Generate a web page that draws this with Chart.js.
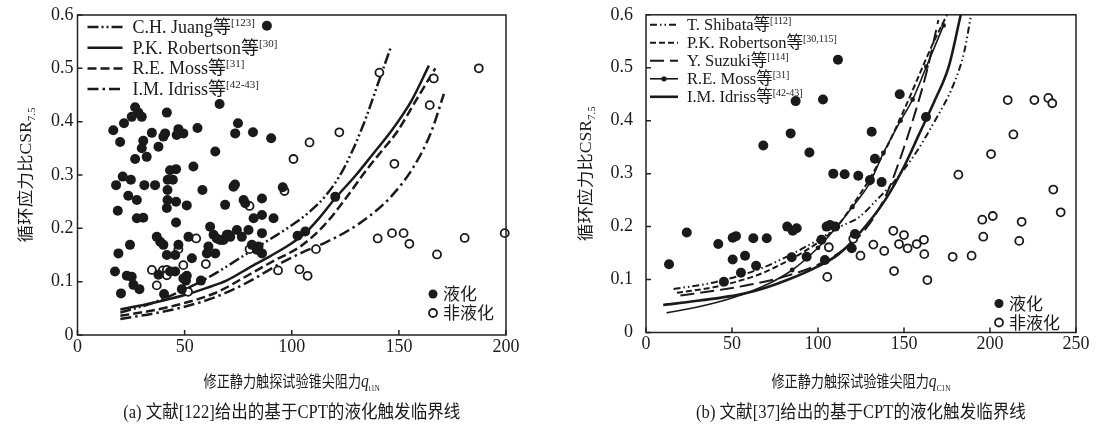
<!DOCTYPE html>
<html><head><meta charset="utf-8">
<script src="https://cdn.jsdelivr.net/npm/chart.js@4.4.1/dist/chart.umd.min.js"></script>
<style>
html,body{margin:0;padding:0;background:#fff;width:1101px;height:430px;overflow:hidden}
canvas{position:absolute}
</style></head><body>
<canvas id="ca" width="560" height="430" style="left:0;top:0;width:560px;height:430px"></canvas>
<canvas id="cb" width="541" height="439" style="left:560px;top:-9px;width:541px;height:439px"></canvas>
<script>
// ================= DATA =================
const yTicks = [0, 0.1, 0.2, 0.3, 0.4, 0.5, 0.6];
const aXTicks = [0, 50, 100, 150, 200];
const bXTicks = [0, 50, 100, 150, 200, 250];

// ---- panel (a) ----
const aLiq = [[16.7,0.384],[19.9,0.362],[21.7,0.397],[26.9,0.427],[28.4,0.417],[25.3,0.409],[30,0.409],[41.7,0.417],[34.7,0.379],[30.7,0.364],[40.1,0.372],[40.9,0.378],[37.8,0.353],[30,0.35],[26.9,0.33],[32.3,0.334],[47.1,0.386],[46.3,0.375],[49.4,0.378],[56,0.388],
[18,0.281],[21.1,0.297],[24.9,0.291],[23.7,0.261],[27.7,0.253],[31.2,0.281],[36.2,0.281],[43.2,0.309],[46,0.311],[42.1,0.291],[44.5,0.291],[42,0.272],[42,0.253],[41.7,0.238],[46,0.25],[54.1,0.316],[58.3,0.272],[51,0.243],
[18.8,0.233],[27.7,0.219],[30.7,0.22],[46,0.211],[19.1,0.153],[24.5,0.169],[17.5,0.119],[23,0.111],[25.3,0.109],[26.1,0.094],[28.9,0.086],[20.3,0.078],
[37,0.184],[38.6,0.175],[40.1,0.169],[41.7,0.15],[45.6,0.15],[47.1,0.169],[45.6,0.119],[43.2,0.119],[37.8,0.113],[49.4,0.106],[51.8,0.184],[53.4,0.144],[51,0.111],[50.6,0.102],[48.7,0.086],[40.4,0.077],[57.6,0.102],
[61.9,0.203],[61.1,0.166],[60.4,0.153],[64.3,0.153],[63.5,0.188],[65,0.181],[68.1,0.178],[71.3,0.184],[74.4,0.197],[69.7,0.188],[76.7,0.184],[79.8,0.197],[68.9,0.244],[72.8,0.278],[77.5,0.253],[82.2,0.219],[86.1,0.225],[86.1,0.256],[91.5,0.219],[81.4,0.169],[84.5,0.166],[86.1,0.153],[86.1,0.191],[64.3,0.344],[66.3,0.433],[74.9,0.397],[73.6,0.378],[81.9,0.38],[90.4,0.369],[88.4,0.58],
[66.6,0.178],[70.5,0.188],[83.7,0.16],[78.3,0.247],[73.5,0.282],[120.3,0.259],[102.7,0.186],[106.3,0.194],[95.8,0.277]];
const aNonLiq = [[55.4,0.181],[47.1,0.161],[49.4,0.131],[59.9,0.133],[34.7,0.122],[39.8,0.121],[41.7,0.122],[41.7,0.112],[37,0.093],[51.6,0.081],[80.3,0.161],[80.3,0.242],[93.6,0.121],[96.6,0.27],[103.6,0.123],[107.4,0.111],[111.3,0.161],[100.8,0.33],[108.3,0.361],[122.2,0.38],[140.9,0.492],[166.3,0.481],[187.3,0.5],[164.4,0.431],[147.9,0.321],[140.1,0.181],[146.8,0.191],[152.2,0.191],[154.9,0.171],[167.8,0.151],[180.7,0.182],[199.4,0.191]];
const aJuang = [[20,0.042],[35,0.06],[46,0.078],[55,0.095],[65,0.117],[80,0.155],[90,0.18],[99,0.203],[108,0.23],[116,0.262],[124,0.31],[133,0.39],[141,0.48],[146,0.537]];
const aRobertson = [[20,0.048],[35,0.06],[50,0.075],[60,0.088],[70,0.103],[80,0.126],[90,0.148],[100,0.172],[106,0.19],[113,0.22],[120,0.255],[130,0.3],[138,0.34],[146,0.38],[156,0.44],[164,0.505]];
const aMoss = [[20,0.036],[35,0.046],[50,0.06],[65,0.08],[80,0.113],[92,0.14],[104,0.166],[115,0.205],[125,0.255],[135,0.31],[142,0.345],[149,0.38],[158,0.44],[167,0.5]];
const aIdriss = [[20,0.03],[35,0.04],[50,0.053],[65,0.072],[80,0.1],[95,0.135],[105,0.155],[115,0.172],[126,0.195],[136,0.222],[146,0.258],[157,0.316],[165,0.38],[171,0.452]];
const aLegendNames = ['C.H. Juang等', 'P.K. Robertson等', 'R.E. Moss等', 'I.M. Idriss等'];
const aLegendRefs = ['[123]', '[30]', '[31]', '[42-43]'];

// ---- panel (b) ----
const bLiq = [[13.4,0.129],[23.7,0.189],[42,0.167],[50.4,0.179],[52.3,0.182],[50.4,0.138],[57.6,0.145],[62.4,0.178],[70.2,0.178],[55.2,0.113],[64,0.126],[45.3,0.096],[68.2,0.353],[84.1,0.376],[95,0.34],[82.1,0.2],[85.3,0.192],[87.6,0.197],[84.7,0.142],[93.4,0.143],[87,0.437],[102.9,0.44],[111.6,0.515],[105,0.2],[107,0.203],[110,0.2],[104,0.137],[102,0.175],[147.5,0.45],[162.8,0.407],[131.2,0.379],[133.1,0.328],[108.9,0.3],[115.5,0.299],[123.4,0.296],[130.2,0.288],[137,0.284],[119.6,0.159],[121.5,0.186]];
const bNonLiq = [[105.4,0.105],[106.3,0.161],[120.5,0.177],[124.7,0.145],[132.2,0.166],[138.5,0.154],[143.8,0.192],[150,0.184],[147.1,0.167],[152.1,0.159],[157.4,0.167],[161.6,0.175],[161.8,0.148],[144.2,0.116],[163.6,0.099],[178.3,0.143],[189.3,0.145],[181.6,0.298],[195.5,0.213],[196.1,0.181],[201.6,0.22],[200.6,0.337],[210.3,0.439],[213.6,0.374],[218.4,0.209],[217,0.173],[225.8,0.439],[233.9,0.443],[236.2,0.433],[236.8,0.27],[241.1,0.227]];
const bShibata = [[16,0.082],[40,0.095],[66,0.12],[86,0.15],[100,0.175],[113,0.2],[124,0.218],[134,0.25],[144,0.284],[156,0.335],[168,0.4],[179,0.47],[185,0.53],[189,0.6]];
const bRobertson = [[18,0.075],[40,0.086],[66,0.11],[85,0.14],[100,0.17],[111,0.2],[120,0.24],[130,0.29],[140,0.35],[150,0.42],[158,0.48],[166,0.54],[175,0.6]];
const bSuzuki = [[20,0.07],[40,0.079],[60,0.09],[80,0.105],[100,0.128],[113,0.152],[122,0.175],[132,0.215],[141,0.27],[149,0.34],[156,0.41],[163,0.49],[170,0.59]];
const bMoss = [[12,0.037],[30,0.048],[50,0.065],[70,0.09],[85,0.118],[100,0.16],[111,0.2],[120,0.237],[130,0.282],[138,0.339],[148,0.4],[155,0.44],[163,0.502],[173,0.58]];
const bIdriss = [[10,0.052],[30,0.06],[55,0.072],[70,0.085],[82,0.099],[100,0.125],[112,0.148],[124,0.187],[139,0.25],[150,0.313],[159,0.376],[168,0.439],[176,0.502],[183,0.6]];
const bLegendNames = ['T. Shibata等', 'P.K. Robertson等', 'Y. Suzuki等', 'R.E. Moss等', 'I.M. Idriss等'];
const bLegendRefs = ['[112]', '[30,115]', '[114]', '[31]', '[42-43]'];

const markerLabels = ['液化', '非液化'];
const yTitle = ['循环应力比CSR', '7.5'];
const aXTitle = ['修正静力触探试验锥尖阻力', 'q', 't1N'];
const bXTitle = ['修正静力触探试验锥尖阻力', 'q', 'C1N'];
const aCaption = '(a) 文献[122]给出的基于CPT的液化触发临界线';
const bCaption = '(b) 文献[37]给出的基于CPT的液化触发临界线';

// ================= STYLE / DRAW =================
const INK = '#1a1a1a';
const FAM = '"Liberation Serif","Noto Sans CJK SC",serif';
const toXY = arr => arr.map(([x, y]) => ({x, y}));

function lineDs(arr, st) {
  return {data: toXY(arr), showLine: true, borderColor: INK, backgroundColor: INK,
    borderWidth: st.w, borderDash: st.dash || [],
    pointRadius: st.dot ? (c => (c.raw && c.raw.x >= 85 ? 2.4 : 0)) : 0,
    pointBackgroundColor: INK, pointBorderWidth: 0, cubicInterpolationMode: 'monotone',
    fill: false, order: 1, clip: false};
}
function filledDs(arr) {
  return {data: toXY(arr), showLine: false, pointRadius: 5, pointBackgroundColor: INK,
    pointBorderColor: INK, pointBorderWidth: 0, order: 0, clip: false};
}
function openDs(arr) {
  return {data: toXY(arr), showLine: false, pointRadius: 4, pointBackgroundColor: '#fff',
    pointBorderColor: INK, pointBorderWidth: 1.8, order: 0, clip: false};
}

function richDraw(ctx, parts, x, y) {
  let cx = x;
  for (const p of parts) { ctx.font = p.f; ctx.fillText(p.t, cx, y + (p.dy || 0)); cx += ctx.measureText(p.t).width; }
  return cx;
}
function richWidth(ctx, parts) {
  let w = 0; for (const p of parts) { ctx.font = p.f; w += ctx.measureText(p.t).width; } return w;
}
function drawSample(ctx, x1, x2, y, st) {
  ctx.save(); ctx.strokeStyle = INK; ctx.lineWidth = st.w; ctx.setLineDash(st.dash || []);
  ctx.beginPath(); ctx.moveTo(x1, y); ctx.lineTo(x2, y); ctx.stroke();
  if (st.dot) { ctx.setLineDash([]); ctx.fillStyle = INK; ctx.beginPath(); ctx.arc((x1 + x2) / 2, y, 2.6, 0, Math.PI * 2); ctx.fill(); }
  ctx.restore();
}

const annot = {
  id: 'annot',
  afterDraw(chart, args, o) {
    const ctx = chart.ctx, a = chart.chartArea, xs = chart.scales.x, ys = chart.scales.y;
    ctx.save();
    ctx.strokeStyle = '#222'; ctx.lineWidth = 1.5; ctx.setLineDash([]);
    ctx.strokeRect(a.left, a.top, a.right - a.left, a.bottom - a.top);
    ctx.beginPath();
    xs.ticks.forEach(t => { const p = xs.getPixelForValue(t.value); ctx.moveTo(p, a.bottom); ctx.lineTo(p, a.bottom - 5); });
    ys.ticks.forEach(t => { const p = ys.getPixelForValue(t.value); ctx.moveTo(a.left, p); ctx.lineTo(a.left + 5, p); });
    ctx.stroke();
    ctx.fillStyle = INK; ctx.textBaseline = 'alphabetic'; ctx.textAlign = 'left';
    // curve legend
    o.names.forEach((n, i) => {
      const y = a.top + o.lg.y0 + o.lg.dy * i;
      drawSample(ctx, a.left + o.lg.x1, a.left + o.lg.x2, y, o.styles[i]);
      richDraw(ctx, [{t: n, f: o.lg.fs + 'px ' + FAM}, {t: o.refs[i], f: o.lg.ss + 'px ' + FAM, dy: -o.lg.sup}], a.left + o.lg.tx, y + o.lg.fs * 0.33);
    });
    // marker legend
    const mx = a.right - o.mk.dx;
    ctx.fillStyle = INK; ctx.beginPath(); ctx.arc(mx, a.bottom - o.mk.y1, 4.5, 0, Math.PI * 2); ctx.fill();
    ctx.fillStyle = '#fff'; ctx.strokeStyle = INK; ctx.lineWidth = 1.8;
    ctx.beginPath(); ctx.arc(mx, a.bottom - o.mk.y2, 4, 0, Math.PI * 2); ctx.fill(); ctx.stroke();
    ctx.fillStyle = INK; ctx.font = '17px "Noto Sans CJK SC"';
    ctx.fillText(markerLabels[0], mx + 10, a.bottom - o.mk.y1 + 6);
    ctx.fillText(markerLabels[1], mx + 10, a.bottom - o.mk.y2 + 6);
    // y title (rotated)
    const yp = [{t: yTitle[0], f: '16px ' + FAM}, {t: yTitle[1], f: '10px ' + FAM, dy: 4}];
    ctx.save();
    ctx.translate(o.yt.x, (a.top + a.bottom) / 2); ctx.rotate(-Math.PI / 2); ctx.scale(1.1, 1);
    const yw = richWidth(ctx, yp); richDraw(ctx, yp, -yw / 2, 6);
    ctx.restore();
    // x title
    const cx = (a.left + a.right) / 2;
    const xp = [{t: o.xt[0], f: '16px "Noto Sans CJK SC"'}, {t: o.xt[1], f: 'italic 19px ' + FAM}, {t: o.xt[2], f: '9px ' + FAM, dy: 4}];
    ctx.save(); ctx.translate(cx, 387 + o.oy); ctx.scale(0.82, 1);
    const xw = richWidth(ctx, xp); richDraw(ctx, xp, -xw / 2, 0); ctx.restore();
    // caption
    const cp = [{t: o.cap, f: '18px ' + FAM}];
    ctx.save(); ctx.translate(cx, 418 + o.oy); ctx.scale(0.92, 1);
    const cw = richWidth(ctx, cp); richDraw(ctx, cp, -cw / 2, 0); ctx.restore();
    ctx.restore();
  }
};

function makeChart(id, c) {
  return new Chart(document.getElementById(id), {
    type: 'scatter',
    data: {datasets: c.datasets},
    options: {
      responsive: false, animation: false, devicePixelRatio: 1,
      layout: {padding: {top: 15, right: c.padRight, bottom: c.padBottom, left: 0}},
      plugins: {legend: {display: false}, tooltip: {enabled: false}, annot: c.annot},
      scales: {
        x: {type: 'linear', min: 0, max: c.xTicks[c.xTicks.length - 1],
          afterBuildTicks: s => { s.ticks = c.xTicks.map(v => ({value: v})); },
          ticks: {font: {family: FAM, size: 18}, color: INK, padding: 1, maxRotation: 0},
          grid: {display: false, drawTicks: false}, border: {display: false},
          afterFit: s => { s.height = 25; }},
        y: {type: 'linear', min: 0, max: 0.6,
          afterBuildTicks: s => { s.ticks = yTicks.map(v => ({value: v})); },
          ticks: {font: {family: FAM, size: 18}, color: INK, padding: c.yPad},
          grid: {display: false, drawTicks: false}, border: {display: false},
          afterFit: s => { s.width = c.yWidth; }}
      }
    },
    plugins: [annot]
  });
}

const aStyles = [{w: 2.5, dash: [11, 3, 2, 3, 2, 3]}, {w: 2.5}, {w: 2.5, dash: [9, 4]}, {w: 2.5, dash: [11, 4, 2.5, 4]}];
const bStyles = [{w: 2, dash: [7, 3, 1.5, 3, 1.5, 3]}, {w: 2, dash: [6, 3]}, {w: 2, dash: [14, 6]}, {w: 1.6, dot: true}, {w: 2.6}];

makeChart('ca', {
  xTicks: aXTicks, padRight: 54, padBottom: 70, yWidth: 77.5, yPad: 4,
  datasets: [filledDs(aLiq), openDs(aNonLiq), lineDs(aJuang, aStyles[0]), lineDs(aRobertson, aStyles[1]), lineDs(aMoss, aStyles[2]), lineDs(aIdriss, aStyles[3])],
  annot: {names: aLegendNames, refs: aLegendRefs, styles: aStyles,
    lg: {x1: 10, x2: 45, tx: 55, y0: 12, dy: 20.7, fs: 18, ss: 11, sup: 7},
    mk: {dx: 73, y1: 41, y2: 22}, yt: {x: 25}, xt: aXTitle, cap: aCaption, oy: 0}
});
makeChart('cb', {
  xTicks: bXTicks, padRight: 25, padBottom: 72.5, yWidth: 86, yPad: 13,
  datasets: [filledDs(bLiq), openDs(bNonLiq), lineDs(bShibata, bStyles[0]), lineDs(bRobertson, bStyles[1]), lineDs(bSuzuki, bStyles[2]), lineDs(bMoss, bStyles[3]), lineDs(bIdriss, bStyles[4])],
  annot: {names: bLegendNames, refs: bLegendRefs, styles: bStyles,
    lg: {x1: 4, x2: 32, tx: 41, y0: 10, dy: 18, fs: 16.5, ss: 10, sup: 6},
    mk: {dx: 77, y1: 29, y2: 10}, yt: {x: 25}, xt: bXTitle, cap: bCaption, oy: 9}
});
</script></body></html>
